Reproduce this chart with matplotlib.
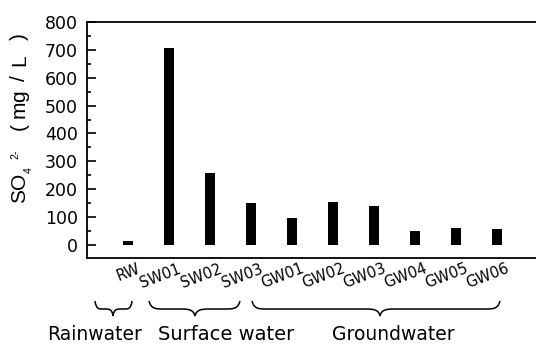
import matplotlib
matplotlib.use("Agg")
import matplotlib.pyplot as plt
import matplotlib.transforms as mtransforms
from matplotlib.path import Path
from matplotlib.patches import PathPatch
import numpy as np

# sample sites and sulfate concentrations (mg/L)
sites = ["RW", "SW01", "SW02", "SW03", "GW01", "GW02", "GW03", "GW04", "GW05", "GW06"]
so4 = [15, 707, 258, 152, 97, 155, 139, 50, 60, 56]
groups = ["Rainwater", "Surface water", "Groundwater"]

W, H = 536, 344
fig = plt.figure(figsize=(W / 100, H / 100), dpi=100)

def fx(px):
    return px / W

def fy(py):
    return 1 - py / H

# axes box in pixels: left 87, top 22, bottom 258, right edge off the image
ax = fig.add_axes([fx(87), fy(258), 451 / W, 236 / H])

x = np.arange(len(sites))
ax.bar(x, so4, width=0.22, color="black")
ax.set_xlim(-1, 10)
ax.set_ylim(-47, 800)

ax.spines["right"].set_visible(False)
for s in ["left", "bottom", "top"]:
    ax.spines[s].set_linewidth(1.3)

ax.set_yticks(np.arange(0, 801, 100))
ax.set_yticks(np.arange(50, 800, 100), minor=True)
ax.tick_params(axis="y", which="major", direction="in", length=6.5, width=1.2,
               labelsize=12.5, pad=6.5)
ax.tick_params(axis="y", which="minor", direction="in", length=3, width=1.2)
ax.tick_params(axis="x", length=0, labelbottom=False)

# rotated site labels
off = mtransforms.ScaledTranslation(0.085, -0.03, fig.dpi_scale_trans)
trans = mtransforms.blended_transform_factory(ax.transData, ax.transAxes) + off
for xi, name in zip(x, sites):
    ax.text(xi, 0, name, transform=trans, rotation=21, rotation_mode="anchor",
            ha="right", va="top", fontsize=10.6, clip_on=False)

# y label, drawn piece by piece (rotated, reading upwards)
lab = dict(rotation=90, ha="center", va="center", family="Liberation Sans")
fig.text(fx(19.5), fy(203), "SO", rotation=90, ha="center", va="bottom",
         fontsize=15, family="Liberation Sans")
fig.text(fx(28.5), fy(170), "4", fontsize=7.5, **lab)
fig.text(fx(15), fy(154), "2-", fontsize=7.5, **lab)
for ch, py in [("(", 126), ("m", 109.5), ("g", 96), ("/", 78.5), ("L", 60), (")", 37)]:
    fig.text(fx(19.5), fy(py), ch, fontsize=15, **lab)

# group braces (pixel coordinates, y downwards)
def brace(x0, x1, xm, y_top=301, y_mid=309, y_tip=316):
    q = min(14, (x1 - x0) / 5)
    verts = [
        (x0, y_top),
        (x0 + q * 0.15, y_mid), (x0 + q * 0.5, y_mid), (x0 + q, y_mid),
        (xm - q, y_mid),
        (xm - q * 0.4, y_mid), (xm - q * 0.1, y_mid + 1), (xm, y_tip),
        (xm + q * 0.1, y_mid + 1), (xm + q * 0.4, y_mid), (xm + q, y_mid),
        (x1 - q, y_mid),
        (x1 - q * 0.5, y_mid), (x1 - q * 0.15, y_mid), (x1, y_top),
    ]
    codes = [Path.MOVETO,
             Path.CURVE4, Path.CURVE4, Path.CURVE4,
             Path.LINETO,
             Path.CURVE4, Path.CURVE4, Path.CURVE4,
             Path.CURVE4, Path.CURVE4, Path.CURVE4,
             Path.LINETO,
             Path.CURVE4, Path.CURVE4, Path.CURVE4]
    verts = [(fx(a), fy(b)) for a, b in verts]
    fig.add_artist(PathPatch(Path(verts, codes), transform=fig.transFigure,
                             fill=False, lw=1.1, color="black"))

brace(95, 132, 113)
brace(149, 240, 195)
brace(252, 500, 380)

fig.text(fx(94.5), fy(344), groups[0], ha="center", va="bottom", fontsize=13.5)
fig.text(fx(226.5), fy(344), groups[1], ha="center", va="bottom", fontsize=14)
fig.text(fx(393.5), fy(344), groups[2], ha="center", va="bottom", fontsize=13.5)

fig.savefig("out.png", dpi=100)
